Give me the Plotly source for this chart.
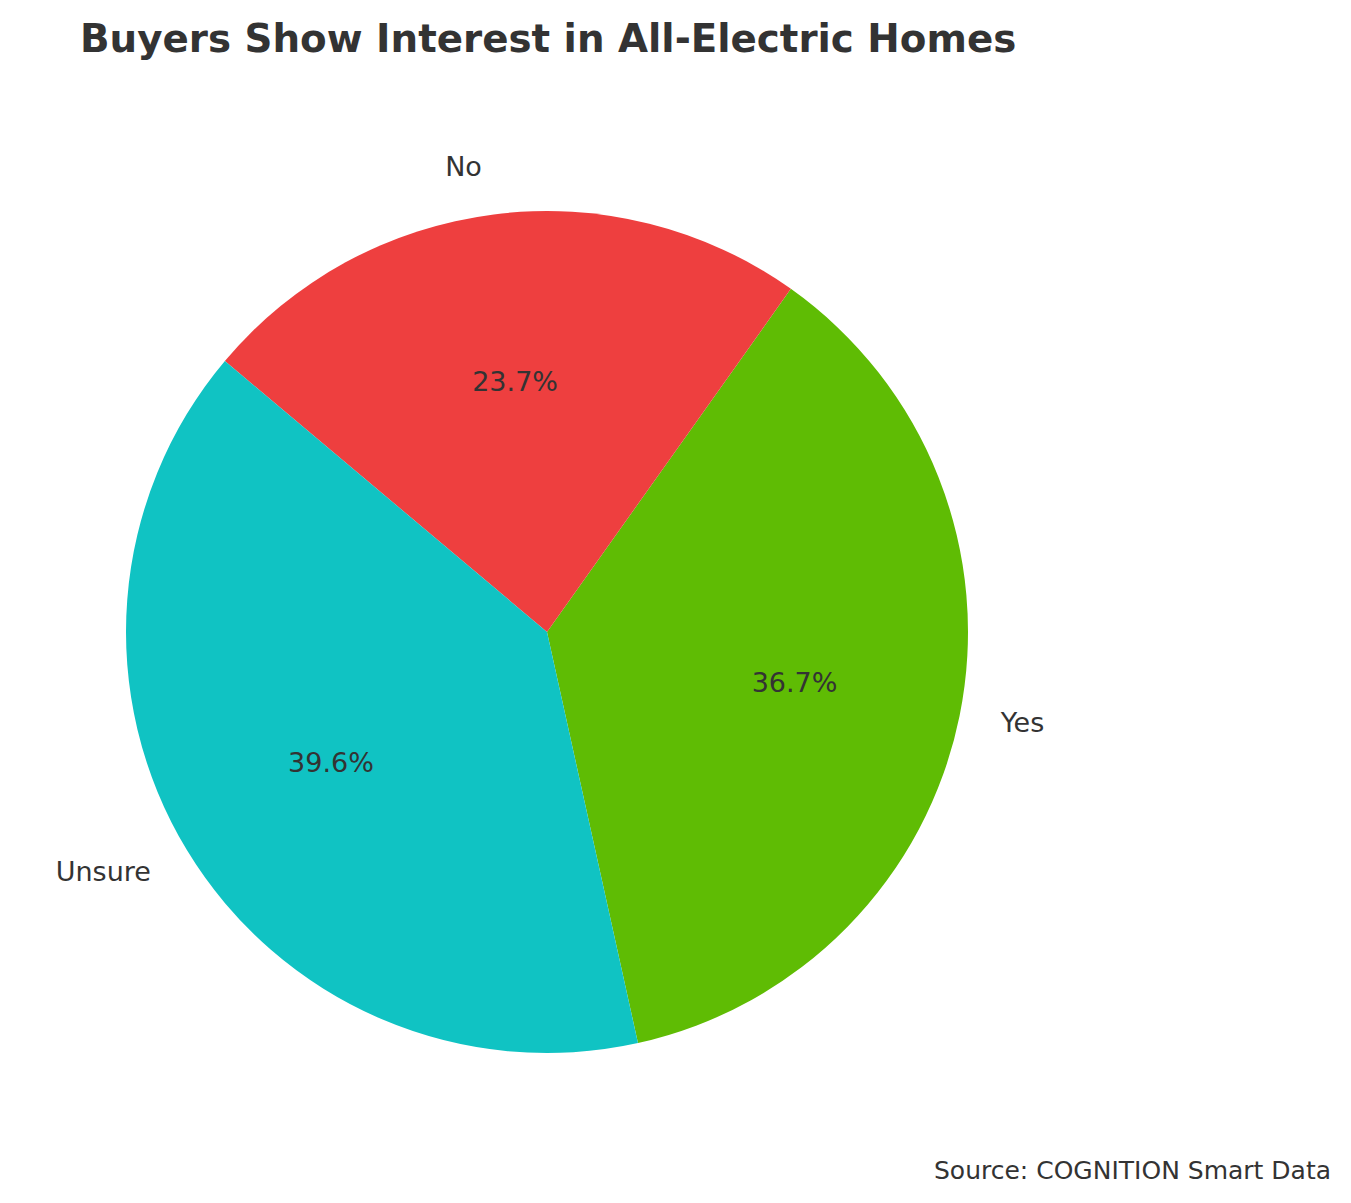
import plotly.graph_objects as go

# ---- data ----
labels = ["Yes", "No", "Unsure"]
shares = [36.7, 23.7, 39.6]
colors = ["#5FBC04", "#EE3F3F", "#10C3C3"]
title_text = "Buyers Show Interest in All-Electric Homes"
source_text = "Source: COGNITION Smart Data"

W, H = 1351, 1203
CX, CY, R = 547, 632, 421   # pie centre / radius in px
TXT = "#333333"
FONT = "DejaVu Sans"
ROT = 35.4   # boundary between "Yes" (clockwise side) and "No"


def dom(r):
    return dict(x=[(CX - r) / W, (CX + r) / W],
                y=[(H - CY - r) / H, (H - CY + r) / H])


fig = go.Figure()

# main pie
fig.add_trace(go.Pie(
    labels=labels, values=shares, sort=False, direction="counterclockwise",
    rotation=ROT, marker=dict(colors=colors, line=dict(width=0)),
    textinfo="none", domain=dom(R), showlegend=False, hoverinfo="label+percent",
))

# percentage text (transparent ring centred near 0.6 R)
fig.add_trace(go.Pie(
    labels=labels, values=shares, sort=False, direction="counterclockwise",
    rotation=ROT, hole=0.48 / 0.72,
    marker=dict(colors=["rgba(0,0,0,0)"] * 3, line=dict(width=0)),
    texttemplate="%{percent:.1%}", textposition="inside",
    insidetextorientation="horizontal",
    insidetextfont=dict(family=FONT, size=27, color=TXT),
    domain=dom(0.72 * R), showlegend=False, hoverinfo="skip",
))

# category labels outside
fig.add_trace(go.Pie(
    labels=labels, values=shares, sort=False, direction="counterclockwise",
    rotation=ROT,
    marker=dict(colors=["rgba(0,0,0,0)"] * 3, line=dict(width=0)),
    texttemplate="%{label}", textposition="outside",
    outsidetextfont=dict(family=FONT, size=27, color=TXT),
    domain=dom(R + 33), showlegend=False, hoverinfo="skip",
))

fig.update_layout(
    width=W, height=H,
    margin=dict(l=0, r=0, t=0, b=0),
    paper_bgcolor="white", plot_bgcolor="white",
    uniformtext=dict(minsize=27, mode="show"),
    title=dict(text="<b>" + title_text + "</b>", x=80 / W, xref="container",
               xanchor="left", y=1 - 38 / H, yref="container", yanchor="middle",
               font=dict(family=FONT, size=38.8, color=TXT)),
    annotations=[dict(text=source_text, xref="paper", yref="paper",
                      x=1333 / W, y=1 - 1170 / H, xanchor="right", yanchor="middle",
                      showarrow=False, font=dict(family=FONT, size=25, color=TXT))],
)

fig.write_html("out.html", config={"displayModeBar": False},
               post_script="document.body.style.margin='0';")
